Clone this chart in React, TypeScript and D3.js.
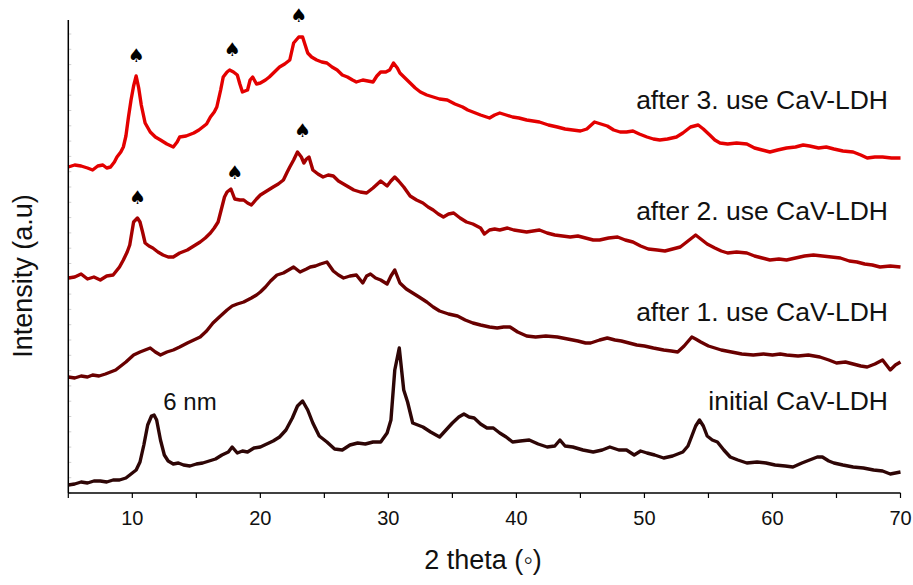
import React from "react";
import * as d3 from "d3";

// [2theta, intensity (a.u., offset stacked)]
const initialData: [number, number][] = [
  [5.0, 8], [5.5, 9], [6.0, 11], [6.5, 10], [7.0, 12], [7.5, 12], [8.0, 11], [8.5, 13], [9.0, 13], [9.5, 15],
  [10.0, 20], [10.3, 23], [10.6, 31], [10.9, 48], [11.2, 68], [11.5, 77], [11.7, 78], [11.9, 73], [12.2, 53],
  [12.5, 38], [12.8, 32], [13.2, 29], [13.6, 30], [14.0, 28], [14.5, 27], [15.0, 29], [15.5, 30], [16.0, 32],
  [16.5, 34], [17.0, 38], [17.5, 41], [17.8, 46], [18.2, 40], [18.6, 42], [19.0, 41], [19.5, 45], [20.0, 46],
  [20.5, 49], [21.0, 52], [21.5, 56], [22.0, 63], [22.5, 75], [22.9, 87], [23.3, 92], [23.7, 83], [24.1, 70],
  [24.6, 57], [25.2, 51], [25.8, 44], [26.4, 43], [27.0, 48], [27.6, 50], [28.2, 49], [28.8, 51], [29.4, 51],
  [29.9, 60], [30.2, 73], [30.5, 123], [30.85, 145], [31.2, 103], [31.5, 91], [31.9, 70], [32.3, 68], [32.7, 66],
  [33.3, 61], [34.0, 56], [34.5, 63], [35.0, 70], [35.5, 76], [35.9, 79], [36.3, 76], [36.7, 75], [37.2, 69],
  [37.7, 65], [38.2, 65], [38.7, 60], [39.2, 56], [39.7, 51], [40.3, 52], [41.0, 53], [41.7, 49], [42.4, 46],
  [43.0, 47], [43.4, 53], [43.8, 47], [44.4, 46], [45.2, 43], [46.0, 41], [46.7, 43], [47.3, 46], [48.0, 43],
  [48.6, 43], [49.2, 38], [49.7, 42], [50.2, 40], [50.8, 38], [51.5, 35], [52.2, 37], [53.0, 41], [53.4, 47],
  [53.7, 57], [54.0, 67], [54.3, 73], [54.6, 67], [54.9, 57], [55.3, 53], [55.7, 51], [56.2, 43], [56.7, 36],
  [57.3, 33], [58.0, 30], [58.8, 31], [59.5, 30], [60.2, 28], [61.0, 27], [61.6, 26], [62.3, 30], [62.9, 33],
  [63.5, 36], [63.9, 36], [64.4, 32], [64.8, 30], [65.5, 28], [66.3, 26], [67.1, 25], [67.9, 23], [68.6, 22],
  [69.2, 19], [70.0, 21],
];

const after1Data: [number, number][] = [
  [5.0, 116], [5.5, 115], [6.0, 117], [6.5, 116], [6.9, 118], [7.4, 117], [7.9, 119], [8.3, 121], [8.7, 123],
  [9.0, 126], [9.5, 131], [10.1, 138], [10.6, 141], [11.0, 143], [11.4, 145], [11.8, 141], [12.2, 138],
  [12.7, 141], [13.2, 143], [13.7, 146], [14.3, 150], [14.8, 153], [15.3, 156], [15.8, 162], [16.3, 170],
  [16.8, 176], [17.4, 183], [17.8, 187], [18.2, 189], [18.7, 191], [19.3, 195], [19.7, 198], [20.0, 201],
  [20.4, 206], [20.8, 212], [21.3, 218], [21.8, 220], [22.2, 223], [22.6, 226], [23.1, 221], [23.6, 224],
  [23.9, 226], [24.3, 227], [24.7, 229], [25.2, 231], [25.7, 222], [26.1, 218], [26.5, 215], [27.0, 217],
  [27.5, 218], [28.0, 210], [28.3, 217], [28.6, 219], [29.0, 215], [29.4, 213], [29.9, 209], [30.2, 217],
  [30.5, 223], [30.9, 210], [31.4, 204], [31.9, 200], [32.4, 196], [33.0, 191], [33.5, 186], [34.0, 182],
  [34.7, 179], [35.4, 177], [36.0, 173], [36.6, 170], [37.2, 168], [37.9, 166], [38.5, 165], [39.0, 166],
  [39.5, 166], [40.1, 161], [40.8, 157], [41.5, 156], [42.3, 157], [43.2, 156], [44.0, 154], [44.8, 152],
  [45.4, 150], [45.8, 150], [46.5, 153], [47.1, 155], [47.7, 153], [48.2, 152], [48.8, 150], [49.4, 148],
  [50.0, 147], [50.7, 145], [51.5, 143], [52.1, 142], [52.6, 141], [53.1, 147], [53.7, 156], [54.0, 154],
  [54.4, 151], [55.0, 147], [55.5, 145], [56.0, 143], [56.8, 141], [57.6, 139], [58.5, 138], [59.3, 139],
  [60.0, 138], [60.6, 139], [61.1, 138], [62.0, 137], [62.8, 138], [63.7, 136], [64.4, 133], [65.0, 130],
  [65.7, 131], [66.3, 129], [66.9, 127], [67.4, 126], [68.0, 129], [68.6, 133], [69.2, 123], [69.6, 128],
  [70.0, 131],
];

const after2Data: [number, number][] = [
  [5.0, 215], [5.5, 216], [6.0, 219], [6.5, 214], [7.0, 216], [7.5, 213], [8.0, 217], [8.5, 218], [9.0, 226],
  [9.3, 233], [9.6, 241], [9.8, 248], [10.1, 271], [10.4, 275], [10.6, 271], [10.8, 261], [11.0, 250],
  [11.3, 247], [11.6, 245], [12.0, 241], [12.4, 238], [12.8, 236], [13.2, 236], [13.7, 240], [14.3, 243],
  [14.8, 247], [15.3, 251], [15.7, 255], [16.1, 260], [16.4, 265], [16.7, 271], [17.0, 286], [17.2, 296],
  [17.4, 301], [17.7, 304], [18.0, 294], [18.4, 293], [18.7, 293], [19.0, 290], [19.3, 288], [19.7, 294],
  [20.0, 298], [20.5, 302], [21.0, 306], [21.4, 309], [21.8, 313], [22.1, 321], [22.3, 326], [22.6, 333],
  [22.9, 341], [23.2, 336], [23.4, 330], [23.6, 334], [23.8, 336], [24.1, 323], [24.5, 319], [24.9, 316],
  [25.3, 318], [25.7, 317], [26.1, 312], [26.5, 309], [26.9, 306], [27.3, 303], [27.8, 301], [28.3, 300],
  [28.8, 305], [29.4, 312], [29.9, 307], [30.2, 312], [30.5, 316], [30.8, 312], [31.2, 306], [31.7, 297],
  [32.2, 293], [32.7, 290], [33.1, 286], [33.5, 283], [33.9, 279], [34.3, 276], [34.7, 279], [35.1, 280],
  [35.6, 275], [36.1, 271], [36.6, 269], [37.2, 265], [37.5, 259], [37.9, 263], [38.3, 264], [38.7, 263],
  [39.3, 265], [39.8, 263], [40.3, 262], [40.8, 261], [41.3, 262], [41.8, 263], [42.4, 260], [43.0, 258],
  [43.6, 257], [44.2, 256], [44.8, 257], [45.4, 255], [46.0, 253], [46.5, 253], [47.2, 255], [47.9, 256],
  [48.5, 253], [49.1, 251], [49.7, 247], [50.3, 244], [51.0, 243], [51.6, 242], [52.2, 244], [52.8, 246],
  [53.4, 252], [54.0, 258], [54.4, 254], [54.9, 249], [55.5, 245], [56.0, 242], [56.5, 240], [57.2, 241],
  [58.0, 240], [58.6, 237], [59.2, 235], [59.8, 233], [60.5, 234], [61.1, 233], [61.8, 235], [62.5, 237],
  [63.2, 238], [63.9, 237], [64.6, 236], [65.3, 235], [66.0, 232], [66.6, 231], [67.2, 229], [67.8, 228],
  [68.4, 226], [69.2, 227], [70.0, 226],
];

const after3Data: [number, number][] = [
  [5.0, 326], [5.5, 328], [6.0, 327], [6.5, 325], [6.9, 323], [7.3, 327], [7.7, 328], [8.0, 325], [8.3, 326],
  [8.6, 331], [8.8, 336], [9.1, 341], [9.3, 346], [9.5, 357], [9.7, 376], [9.9, 393], [10.1, 407], [10.3, 417],
  [10.5, 405], [10.7, 388], [11.0, 370], [11.4, 361], [11.8, 356], [12.2, 353], [12.7, 349], [13.2, 346],
  [13.5, 351], [13.7, 356], [14.2, 357], [14.8, 360], [15.2, 363], [15.5, 366], [15.8, 369], [16.1, 376],
  [16.4, 381], [16.6, 386], [16.9, 403], [17.1, 416], [17.4, 421], [17.6, 423], [17.9, 421], [18.2, 418],
  [18.4, 409], [18.6, 401], [19.0, 403], [19.2, 413], [19.4, 416], [19.7, 409], [20.0, 410], [20.4, 413],
  [20.7, 416], [21.1, 421], [21.5, 426], [21.9, 429], [22.3, 433], [22.6, 450], [23.0, 456], [23.3, 456],
  [23.5, 448], [23.7, 440], [24.0, 436], [24.4, 433], [24.8, 431], [25.2, 430], [25.6, 426], [26.0, 423],
  [26.4, 418], [26.8, 416], [27.2, 413], [27.5, 411], [28.0, 413], [28.4, 412], [28.8, 411], [29.1, 417],
  [29.4, 421], [29.8, 421], [30.1, 423], [30.4, 430], [30.7, 425], [30.9, 420], [31.3, 415], [31.7, 410],
  [32.1, 405], [32.5, 401], [33.0, 398], [33.5, 396], [34.0, 394], [34.6, 393], [35.2, 389], [35.8, 386],
  [36.2, 383], [36.6, 381], [37.2, 378], [37.9, 375], [38.3, 378], [38.7, 380], [39.2, 378], [39.7, 376],
  [40.2, 375], [40.8, 373], [41.3, 372], [41.8, 371], [42.5, 368], [43.2, 366], [43.8, 364], [44.4, 363],
  [45.0, 362], [45.5, 364], [46.1, 371], [46.6, 369], [47.1, 367], [47.6, 363], [48.1, 361], [48.6, 361],
  [49.1, 362], [49.6, 359], [50.2, 356], [50.7, 354], [51.2, 353], [51.8, 354], [52.5, 356], [53.0, 360],
  [53.6, 366], [54.2, 368], [54.6, 364], [55.1, 358], [55.5, 353], [55.9, 350], [56.5, 349], [57.2, 350],
  [58.0, 349], [58.6, 345], [59.2, 343], [59.8, 341], [60.4, 343], [61.1, 345], [61.8, 346], [62.4, 348],
  [62.9, 347], [63.6, 345], [64.2, 346], [64.8, 344], [65.5, 342], [66.3, 341], [66.9, 338], [67.4, 335],
  [68.0, 336], [68.6, 336], [69.3, 335], [70.0, 335],
];

const seriesNames = ["initial CaV-LDH", "after 1. use CaV-LDH", "after 2. use CaV-LDH", "after 3. use CaV-LDH"];
const seriesColors = ["#2e0606", "#680000", "#a50000", "#e40000"];
const seriesLabelValues = [83, 172, 273, 384];

// spade markers: [2theta, intensity of marker base]
const spadeMarks: [number, number][] = [
  [10.3, 431], [17.8, 437], [23.0, 471],
  [10.4, 289], [18.0, 314], [23.3, 356],
];

const xTicks = [5, 10, 15, 20, 25, 30, 35, 40, 45, 50, 55, 60, 65, 70];
const xTickLabels = [10, 20, 30, 40, 50, 60, 70];

const W = 913;
const H = 585;
const M = { left: 68.3, right: 900.5, top: 20, bottom: 493 };

export default function App() {
  const x = d3.scaleLinear().domain([5, 70]).range([M.left, M.right]);
  const y = d3.scaleLinear().domain([0, 473]).range([M.bottom, M.top]);
  const line = d3
    .line<[number, number]>()
    .x((d) => x(d[0]))
    .y((d) => y(d[1]));
  const data = [initialData, after1Data, after2Data, after3Data];
  const yMinor = d3.range(0, 474, 15.3);
  const font = "Arial, 'Liberation Sans', sans-serif";

  return (
    <svg
      width={W}
      height={H}
      style={{ position: "absolute", left: 0, top: 0, background: "#fff" }}
      fontFamily={font}
    >
      {/* y minor ticks */}
      {yMinor.map((v, i) => (
        <line key={"ym" + i} x1={M.left} x2={M.left + 3} y1={y(v)} y2={y(v)} stroke="#d0d0d0" strokeWidth={1} />
      ))}
      {/* series */}
      {data.map((d, i) => (
        <path
          key={"s" + i}
          d={line(d) || ""}
          fill="none"
          stroke={seriesColors[i]}
          strokeWidth={3.4}
          strokeLinejoin="round"
        />
      ))}
      {/* axes */}
      <line x1={M.left} x2={M.left} y1={M.top} y2={M.bottom} stroke="#000" strokeWidth={1.5} />
      <line x1={M.left} x2={M.right} y1={M.bottom} y2={M.bottom} stroke="#000" strokeWidth={1.5} />
      {xTicks.map((t) => (
        <line key={"xt" + t} x1={x(t)} x2={x(t)} y1={M.bottom} y2={M.bottom + 5} stroke="#000" strokeWidth={1.2} />
      ))}
      {xTickLabels.map((t) => (
        <text key={"xl" + t} x={x(t)} y={525} textAnchor="middle" fontSize={20} fill="#111">
          {t}
        </text>
      ))}
      <text x={483} y={569} textAnchor="middle" fontSize={27} fill="#111">
        2 theta (◦)
      </text>
      <text
        transform={`translate(32, 276) rotate(-90)`}
        textAnchor="middle"
        fontSize={27}
        fill="#111"
      >
        Intensity (a.u)
      </text>
      {/* series labels */}
      {seriesNames.map((n, i) => (
        <text key={"lbl" + i} x={888} y={y(seriesLabelValues[i])} textAnchor="end" fontSize={26.5} fill="#111">
          {n}
        </text>
      ))}
      <text x={190} y={y(83)} textAnchor="middle" fontSize={24} fill="#111">
        6 nm
      </text>
      {spadeMarks.map((s, i) => (
        <text
          key={"sp" + i}
          x={x(s[0])}
          y={y(s[1])}
          textAnchor="middle"
          fontSize={19}
          fontFamily="'DejaVu Sans', sans-serif"
          fill="#000"
        >
          ♠
        </text>
      ))}
    </svg>
  );
}
